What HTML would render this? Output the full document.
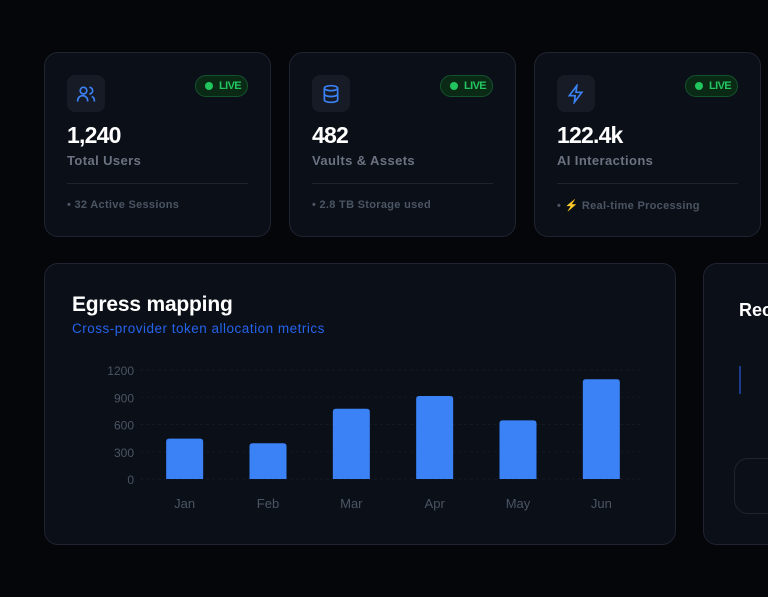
<!DOCTYPE html>
<html><head><meta charset="utf-8"><style>
*{box-sizing:border-box;margin:0;padding:0}
body{width:768px;height:597px;overflow:hidden;background:#05060a;font-family:"Liberation Sans",sans-serif;position:relative}
.card{position:absolute;background:#0b0f18;border:1px solid #1f2430;border-radius:14px}
.icon{position:absolute;left:22px;top:22px;width:38px;height:37px;border-radius:8px;background:#161b26;display:flex;align-items:center;justify-content:center}
.live{position:absolute;left:150px;top:22px;width:53px;height:22px;border-radius:11px;background:#0a2a16;border:1px solid #14532d;color:#22c55e;font-size:11px;font-weight:bold;display:flex;align-items:center;padding-left:9px;letter-spacing:-0.6px}
.live i{display:inline-block;width:8px;height:8px;border-radius:50%;background:#22c55e;margin-right:6px}
.num{position:absolute;left:22px;top:69px;color:#fff;font-size:23px;font-weight:bold;letter-spacing:-0.8px}
.lbl{position:absolute;left:22px;top:100px;color:#6b7280;font-size:13px;font-weight:bold;letter-spacing:0.4px}
.div{position:absolute;left:22px;right:22px;top:130px;height:1px;background:#1f2430}
.foot{position:absolute;left:22px;top:146px;color:#4b5563;font-size:11px;font-weight:bold;letter-spacing:0.3px}
</style></head><body>
<div class="card" style="left:44px;top:52px;width:227px;height:185px">
 <div class="icon"><svg width="20" height="20" viewBox="0 0 24 24" fill="none" stroke="#3b82f6" stroke-width="2"><circle cx="9" cy="8" r="4"/><path d="M2 21v-1a6 6 0 0 1 12 0v1"/><path d="M16 4a4 4 0 0 1 0 8M19 15a5 5 0 0 1 3 5v1"/></svg></div>
 <div class="live"><i></i>LIVE</div>
 <div class="num">1,240</div>
 <div class="lbl">Total Users</div>
 <div class="div"></div>
 <div class="foot">• 32 Active Sessions</div>
</div>
<div class="card" style="left:289px;top:52px;width:227px;height:185px">
 <div class="icon"><svg width="20" height="20" viewBox="0 0 24 24" fill="none" stroke="#3b82f6" stroke-width="2"><ellipse cx="12" cy="5" rx="8" ry="3"/><path d="M4 5v14c0 1.7 3.6 3 8 3s8-1.3 8-3V5M4 12c0 1.7 3.6 3 8 3s8-1.3 8-3"/></svg></div>
 <div class="live"><i></i>LIVE</div>
 <div class="num">482</div>
 <div class="lbl">Vaults &amp; Assets</div>
 <div class="div"></div>
 <div class="foot">• 2.8 TB Storage used</div>
</div>
<div class="card" style="left:534px;top:52px;width:227px;height:185px">
 <div class="icon"><svg width="20" height="20" viewBox="0 0 24 24" fill="none" stroke="#3b82f6" stroke-width="2"><path d="M13 2L4 14h7l-1 8 9-12h-7z"/></svg></div>
 <div class="live"><i></i>LIVE</div>
 <div class="num">122.4k</div>
 <div class="lbl">AI Interactions</div>
 <div class="div"></div>
 <div class="foot">• <span style="color:#ca8a04">⚡</span> Real-time Processing</div>
</div>
<div class="card" style="left:44px;top:263px;width:632px;height:282px">
 <div style="position:absolute;left:27px;top:29px;color:#fff;font-size:21px;font-weight:bold;letter-spacing:-0.2px">Egress mapping</div>
 <div style="position:absolute;left:27px;top:57px;color:#2563eb;font-size:13.5px;letter-spacing:0.5px">Cross-provider token allocation metrics</div>
</div>
<svg id="chart" width="768" height="597" style="position:absolute;left:0;top:0"></svg>
<div class="card" style="left:703px;top:263px;width:100px;height:282px">
 <div style="position:absolute;left:35px;top:36px;color:#fff;font-size:18px;font-weight:bold">Recent</div>
 <div style="position:absolute;left:35px;top:102px;width:2px;height:28px;background:#1e3a8a"></div>
 <div style="position:absolute;left:30px;top:194px;width:100px;height:56px;border:1px solid #1f2430;border-radius:14px"></div>
</div>
<script>
const categories=["Jan","Feb","Mar","Apr","May","Jun"];
const values=[445,393,774,914,646,1098];
const ticks=[0,300,600,900,1200];
const svg=document.getElementById('chart');
const NS='http://www.w3.org/2000/svg';
const x0=143,x1=643,y0=479,y1=370,maxV=1200;
const step=(x1-x0)/categories.length;
function xs(i){return x0+step*(i+0.5);}
function ys(v){return y0-(v/maxV)*(y0-y1);}
ticks.forEach(t=>{
 const l=document.createElementNS(NS,'line');
 l.setAttribute('x1',140);l.setAttribute('x2',x1);l.setAttribute('y1',ys(t));l.setAttribute('y2',ys(t));
 l.setAttribute('stroke','#141925');l.setAttribute('stroke-dasharray','3 3');
 
 
 svg.appendChild(l);
 const tx=document.createElementNS(NS,'text');
 tx.setAttribute('x',134);tx.setAttribute('y',ys(t)+5);tx.setAttribute('text-anchor','end');
 tx.setAttribute('fill','#4b5563');tx.setAttribute('font-size','12');tx.setAttribute('font-family','Liberation Sans, sans-serif');
 tx.textContent=t;
 
 
 svg.appendChild(tx);
});
categories.forEach((c,i)=>{
 const w=37,cx=xs(i),top=ys(values[i]);
 const r=document.createElementNS(NS,'path');
 const L=cx-w/2,R=cx+w/2,rr=3;
 r.setAttribute('d',`M${L},${y0}V${top+rr}Q${L},${top} ${L+rr},${top}H${R-rr}Q${R},${top} ${R},${top+rr}V${y0}Z`);
 r.setAttribute('fill','#3b82f6');
 
 
 svg.appendChild(r);
 const tx=document.createElementNS(NS,'text');
 tx.setAttribute('x',cx);tx.setAttribute('y',508);tx.setAttribute('text-anchor','middle');
 tx.setAttribute('fill','#4b5563');tx.setAttribute('font-size','13');tx.setAttribute('font-family','Liberation Sans, sans-serif');
 tx.textContent=c;
 
 
 svg.appendChild(tx);
});
</script>
</body></html>
